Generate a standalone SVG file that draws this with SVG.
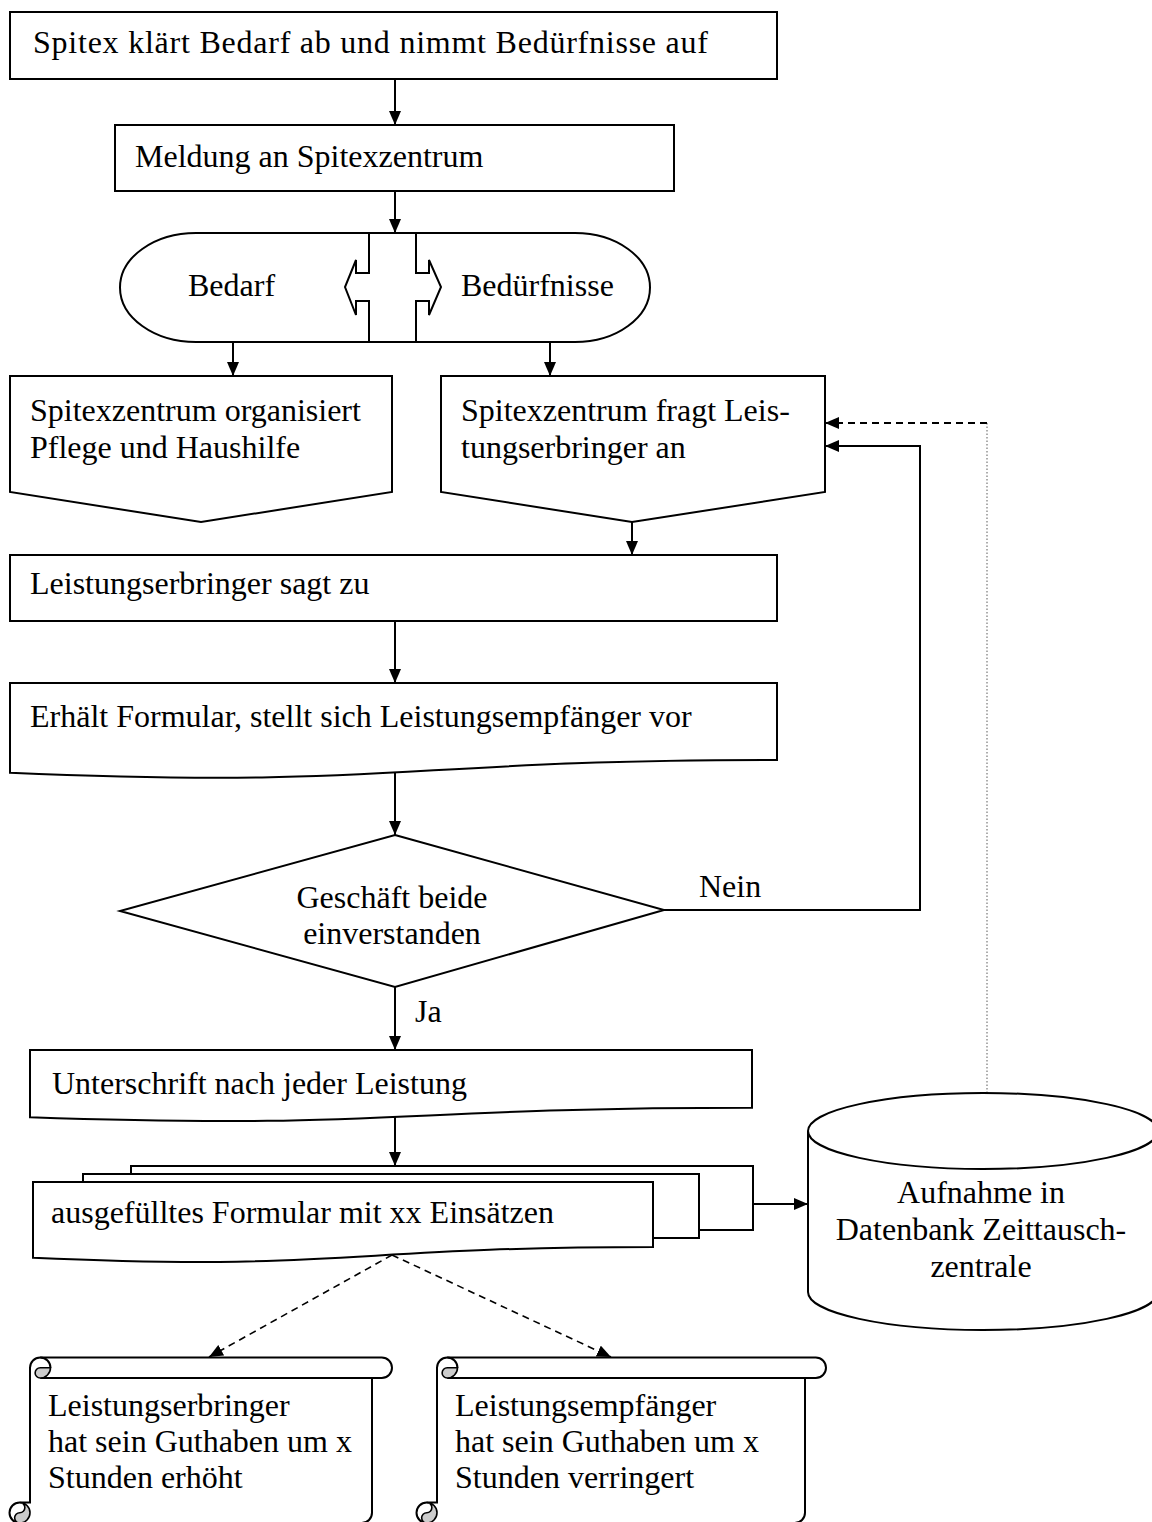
<svg xmlns="http://www.w3.org/2000/svg" width="1152" height="1522" viewBox="0 0 1152 1522">
<defs>
<marker id="ah" markerWidth="14" markerHeight="12" refX="14" refY="6" orient="auto" markerUnits="userSpaceOnUse"><path d="M0,0 L14,6 L0,12 Z" fill="#000"/></marker>
<style>
.s{fill:#fff;stroke:#000;stroke-width:2;stroke-linejoin:miter}
.o{fill:none;stroke:#000;stroke-width:2}
.g{fill:#cccccc;stroke:#000;stroke-width:1.6}
.t{font-family:"Liberation Serif","Times New Roman",serif;font-size:32px;fill:#000}
.c{fill:none;stroke:#000;stroke-width:2}
.d{fill:none;stroke:#000;stroke-width:1.6;stroke-dasharray:7,5}
.dot{fill:none;stroke:#777;stroke-width:1.2;stroke-dasharray:1.5,2}
</style>
</defs>
<rect width="1152" height="1522" fill="#fff"/>

<g id="connectors">
<line class="c" x1="395" y1="79" x2="395" y2="125" marker-end="url(#ah)"/>
<line class="c" x1="395" y1="191" x2="395" y2="233" marker-end="url(#ah)"/>
<line class="c" x1="233" y1="342" x2="233" y2="376" marker-end="url(#ah)"/>
<line class="c" x1="550" y1="342" x2="550" y2="376" marker-end="url(#ah)"/>
<line class="c" x1="632" y1="522" x2="632" y2="555" marker-end="url(#ah)"/>
<line class="c" x1="395" y1="621" x2="395" y2="683" marker-end="url(#ah)"/>
<line class="c" x1="395" y1="772" x2="395" y2="835" marker-end="url(#ah)"/>
<line class="c" x1="395" y1="987" x2="395" y2="1050" marker-end="url(#ah)"/>
<line class="c" x1="395" y1="1117" x2="395" y2="1166" marker-end="url(#ah)"/>
<line class="c" x1="753" y1="1204" x2="808" y2="1204" marker-end="url(#ah)"/>
<polyline class="c" points="664,910 920,910 920,446 825,446" marker-end="url(#ah)"/>
<line class="dot" x1="987" y1="1093" x2="987" y2="423"/>
<line class="d" x1="987" y1="423" x2="825" y2="423" marker-end="url(#ah)" style="stroke-width:2"/>
<line class="d" x1="392" y1="1255" x2="209" y2="1357" marker-end="url(#ah)"/>
<line class="d" x1="392" y1="1255" x2="611" y2="1357" marker-end="url(#ah)"/>
<text class="t" x="699" y="897">Nein</text>
<text class="t" x="415" y="1022">Ja</text>
</g>

<g id="n1">
<rect class="s" x="10" y="12" width="767" height="67"/>
<text class="t" x="33" y="53" textLength="675" lengthAdjust="spacing">Spitex klärt Bedarf ab und nimmt Bedürfnisse auf</text>
</g>

<g id="n2">
<rect class="s" x="115" y="125" width="559" height="66"/>
<text class="t" x="135" y="167">Meldung an Spitexzentrum</text>
</g>

<g id="n3">
<path class="s" d="M196,233 H575 A75,54.5 0 0 1 575,342 H196 A76,54.5 0 0 1 196,233 Z"/>
<path class="o" d="M369,233 V273 H356 V260 L345,287 L356,315 V301 H369 V342"/>
<path class="o" d="M416,233 V273 H429 V260 L441,287 L429,315 V301 H416 V342"/>
<text class="t" x="188" y="296">Bedarf</text>
<text class="t" x="461" y="296">Bedürfnisse</text>
</g>

<g id="n4">
<path class="s" d="M10,376 H392 V492 L201,522 L10,492 Z"/>
<text class="t" x="30" y="421">Spitexzentrum organisiert</text>
<text class="t" x="30" y="458">Pflege und Haushilfe</text>
</g>

<g id="n5">
<path class="s" d="M441,376 H825 V492 L632,522 L441,492 Z"/>
<text class="t" x="461" y="421">Spitexzentrum fragt Leis-</text>
<text class="t" x="461" y="458">tungserbringer an</text>
</g>

<g id="n6">
<rect class="s" x="10" y="555" width="767" height="66"/>
<text class="t" x="30" y="594">Leistungserbringer sagt zu</text>
</g>

<g id="n7">
<path class="s" d="M10,683 H777 V760 C393.5,760 393.5,789.3 10,772.7 Z"/>
<text class="t" x="30" y="727">Erhält Formular, stellt sich Leistungsempfänger vor</text>
</g>

<g id="n8">
<path class="s" d="M395,835 L664,910 L395,987 L120,911 Z"/>
<text class="t" x="392" y="908" text-anchor="middle">Geschäft beide</text>
<text class="t" x="392" y="944" text-anchor="middle">einverstanden</text>
</g>

<g id="n9">
<path class="s" d="M30,1050 H752 V1107.7 C391,1107.7 391,1129.7 30,1117.2 Z"/>
<text class="t" x="52" y="1094">Unterschrift nach jeder Leistung</text>
</g>

<g id="n10">
<path class="s" d="M131,1174 V1166 H753 V1230 H699"/>
<path class="s" d="M83,1182 V1174 H699 V1238 H653"/>
<path class="s" d="M33,1182 H653 V1247 C343,1247 343,1271.7 33,1257.7 Z"/>
<text class="t" x="51" y="1223">ausgefülltes Formular mit xx Einsätzen</text>
</g>

<g id="n11">
<path class="s" d="M808,1131 V1292 A175,38 0 0 0 1158,1292 V1131 A175,38 0 0 0 808,1131 Z"/>
<path class="o" d="M808,1131 A175,38 0 0 0 1158,1131"/>
<text class="t" x="981" y="1203" text-anchor="middle">Aufnahme in</text>
<text class="t" x="981" y="1240" text-anchor="middle">Datenbank Zeittausch-</text>
<text class="t" x="981" y="1277" text-anchor="middle">zentrale</text>
</g>

<g id="n12">
<path class="s" d="M30,1502.5 V1367.75 A10.25,10.25 0 0 1 40.25,1357.5 H381.75 A10.25,10.25 0 0 1 381.75,1378 H372 V1512.75 A10.25,10.25 0 0 1 361.75,1523 H19.75 A10.25,10.25 0 0 1 19.75,1502.5 Z"/>
<path class="o" d="M381.75,1378 H40.25"/>
<path class="g" d="M40.25,1367.75 A5.125,5.125 0 0 0 40.25,1378 A10.25,10.25 0 0 0 50.5,1367.75 Z"/>
<path class="o" d="M40.25,1357.5 A10.25,10.25 0 0 1 50.5,1367.75"/>
<path class="g" d="M19.75,1502.5 A10.25,10.25 0 0 1 19.75,1523 A5.125,5.125 0 0 1 19.75,1512.75 A5.125,5.125 0 0 0 19.75,1502.5 Z"/>
<text class="t" x="48" y="1416">Leistungserbringer</text>
<text class="t" x="48" y="1452">hat sein Guthaben um x</text>
<text class="t" x="48" y="1488">Stunden erhöht</text>
</g>

<g id="n13">
<path class="s" d="M437,1502.5 V1367.75 A10.25,10.25 0 0 1 447.25,1357.5 H815.75 A10.25,10.25 0 0 1 815.75,1378 H805 V1512.75 A10.25,10.25 0 0 1 794.75,1523 H426.75 A10.25,10.25 0 0 1 426.75,1502.5 Z"/>
<path class="o" d="M815.75,1378 H447.25"/>
<path class="g" d="M447.25,1367.75 A5.125,5.125 0 0 0 447.25,1378 A10.25,10.25 0 0 0 457.5,1367.75 Z"/>
<path class="o" d="M447.25,1357.5 A10.25,10.25 0 0 1 457.5,1367.75"/>
<path class="g" d="M426.75,1502.5 A10.25,10.25 0 0 1 426.75,1523 A5.125,5.125 0 0 1 426.75,1512.75 A5.125,5.125 0 0 0 426.75,1502.5 Z"/>
<text class="t" x="455" y="1416">Leistungsempfänger</text>
<text class="t" x="455" y="1452">hat sein Guthaben um x</text>
<text class="t" x="455" y="1488">Stunden verringert</text>
</g>
</svg>
